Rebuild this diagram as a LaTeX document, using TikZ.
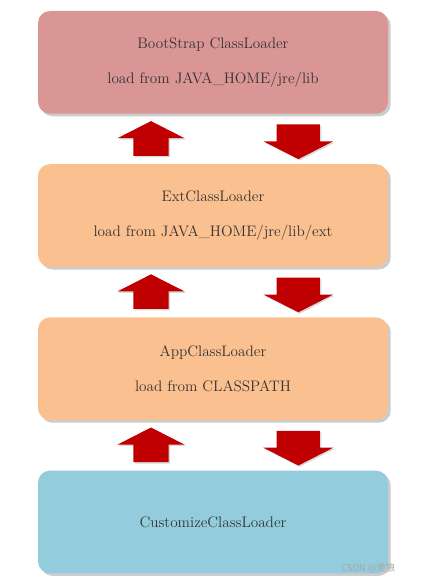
\documentclass[tikz,border=0pt]{standalone}
\usepackage{fontspec}
\newfontfamily\cjk{Noto Sans CJK SC}
\usetikzlibrary{positioning,shapes.arrows,shadows,calc}
\definecolor{bootred}{HTML}{D99694}
\definecolor{peach}{HTML}{FAC08F}
\definecolor{skyblue}{HTML}{93CDDD}
\definecolor{arrowred}{HTML}{C00000}
\definecolor{textgray}{HTML}{333333}
\begin{document}
\begin{tikzpicture}[node distance=37.5pt]
        \tikzstyle{loaderbox} = [rectangle, rounded corners=9pt, minimum width=262.5pt, minimum height=77pt, text centered, align=center, text=textgray, font=\fontsize{11.4}{14}\selectfont, drop shadow={shadow xshift=2pt, shadow yshift=-2pt, opacity=0.4}]
        \tikzstyle{blockup} = [single arrow, draw=none, fill=arrowred, shape border rotate=90, minimum height=26pt, inner ysep=0pt, inner xsep=13pt, single arrow tip angle=126, single arrow head extend=12pt, drop shadow={shadow xshift=1pt, shadow yshift=-1pt, opacity=0.3}]
        \tikzstyle{blockdown} = [blockup, shape border rotate=270, inner xsep=16pt, single arrow head extend=10pt]
        \useasboundingbox (0,0) rectangle (320.25pt,-438pt);
        \node (boot) [loaderbox, fill=bootred] at (159.75pt,-46.75pt) {BootStrap ClassLoader\\[12pt]load from JAVA\_HOME/jre/lib};
        \node (ext) [loaderbox, fill=peach, below=of boot] {ExtClassLoader\\[12pt]load from JAVA\_HOME/jre/lib/ext};
        \node (app) [loaderbox, fill=peach, below=of ext] {AppClassLoader\\[12pt]load from CLASSPATH};
        \node (custom) [loaderbox, fill=skyblue, below=of app] {CustomizeClassLoader};

        \node (up1) [blockup] at ($(boot.south)!0.5!(ext.north)+(-46.5pt,-3pt)$) {};
        \node (down1) [blockdown] at ($(boot.south)!0.5!(ext.north)+(64pt,2pt)$) {};
        \node (up2) [blockup] at ($(ext.south)!0.5!(app.north)+(-46.5pt,-3pt)$) {};
        \node (down2) [blockdown] at ($(ext.south)!0.5!(app.north)+(64pt,2pt)$) {};
        \node (up3) [blockup] at ($(app.south)!0.5!(custom.north)+(-46.5pt,-3pt)$) {};
        \node (down3) [blockdown] at ($(app.south)!0.5!(custom.north)+(64pt,2pt)$) {};

        \node (mark) [text=gray!70, font=\cjk\scriptsize, anchor=east] at (300pt,-426pt) {CSDN @秃狼};
    \end{tikzpicture}
\end{document}
